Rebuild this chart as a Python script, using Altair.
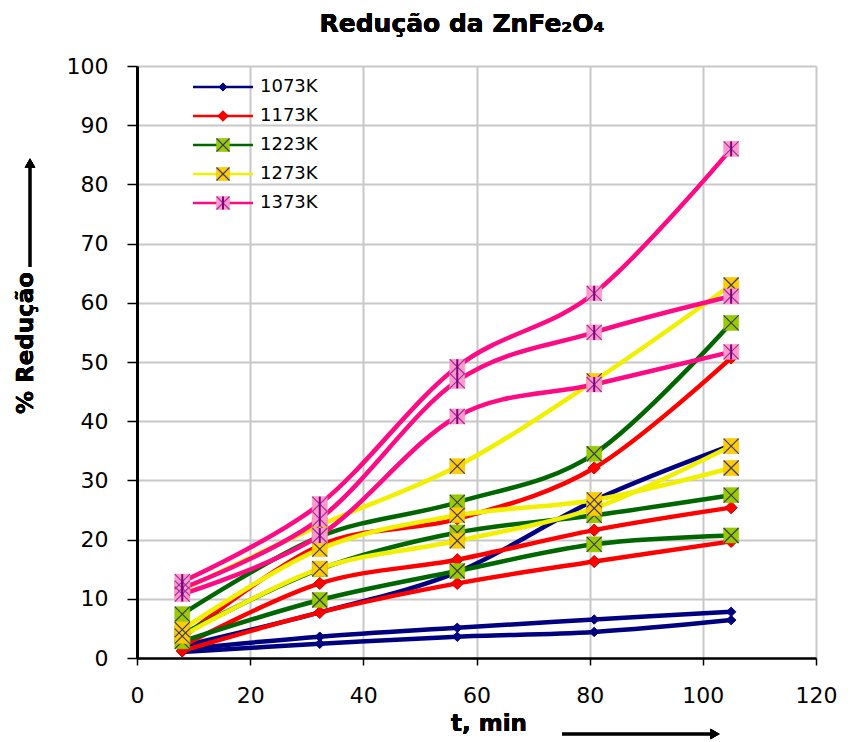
import altair as alt
import pandas as pd

# ---------------- data ----------------
times = [8, 32.3, 56.6, 80.8, 105]
temps = ["1073K", "1173K", "1223K", "1273K", "1373K"]
runs = ["a", "b", "c"]

r1073_a = [1.0, 2.4, 3.6, 4.4, 6.4]
r1073_b = [1.5, 3.6, 5.1, 6.5, 7.8]
r1073_c = [2.0, 7.7, 14.5, 26.6, 35.9]

r1173_a = [1.2, 7.7, 12.6, 16.3, 19.7]
r1173_b = [2.0, 12.6, 16.6, 21.6, 25.4]
r1173_c = [3.4, 19.0, 23.5, 32.1, 50.7]

r1223_a = [2.8, 9.8, 14.7, 19.2, 20.7]
r1223_b = [4.0, 15.0, 21.2, 24.1, 27.5]
r1223_c = [7.4, 20.5, 26.3, 34.5, 56.6]

r1273_a = [3.7, 15.1, 19.8, 25.3, 35.8]
r1273_b = [4.8, 18.4, 24.1, 26.7, 32.1]
r1273_c = [11.5, 22.4, 32.4, 46.8, 63.0]

r1373_a = [10.8, 20.7, 40.8, 46.2, 51.7]
r1373_b = [11.8, 23.5, 46.8, 55.0, 61.1]
r1373_c = [12.9, 26.0, 49.2, 61.6, 86.0]

series = {
    "1073K": [r1073_a, r1073_b, r1073_c],
    "1173K": [r1173_a, r1173_b, r1173_c],
    "1223K": [r1223_a, r1223_b, r1223_c],
    "1273K": [r1273_a, r1273_b, r1273_c],
    "1373K": [r1373_a, r1373_b, r1373_c],
}

line_colors = ["#000080", "#FF0000", "#006600", "#F0F000", "#FF0A85"]

rows = []
for temp in temps:
    for run, vals in zip(runs, series[temp]):
        for t, v in zip(times, vals):
            rows.append({"t": t, "v": v, "temp": temp, "run": temp + run})
df = pd.DataFrame(rows)

legend_df = pd.DataFrame({"temp": temps, "i": list(range(len(temps)))})

FONT = "DejaVu Sans"
XPATH = "M-1,-1L1,1M-1,1L1,-1"
BAR = "M0,-1L0,1"

marker_specs = {
    "1073K": [dict(shape="diamond", filled=True, fill="#000080", stroke="#000080", strokeWidth=1, size=90)],
    "1173K": [dict(shape="diamond", filled=True, fill="#FF0000", stroke="#CC0000", strokeWidth=1, size=150)],
    "1223K": [dict(shape="square", filled=True, fill="#99CC00", stroke="#88BB00", strokeWidth=0.5, size=225),
              dict(shape=XPATH, filled=False, stroke="#3A3A5A", strokeWidth=1.2, size=225)],
    "1273K": [dict(shape="square", filled=True, fill="#FFCC00", stroke="#EEBB00", strokeWidth=0.5, size=225),
              dict(shape=XPATH, filled=False, stroke="#3A3A6A", strokeWidth=1.2, size=225)],
    "1373K": [dict(shape="square", filled=True, fill="#FF99CC", stroke="#FF88C0", strokeWidth=0.5, size=225),
              dict(shape=XPATH, filled=False, stroke="#993399", strokeWidth=1.2, size=225),
              dict(shape=BAR, filled=False, stroke="#800080", strokeWidth=2, size=225)],
}

xscale = alt.Scale(domain=[0, 120], nice=False, zero=False)
yscale = alt.Scale(domain=[0, 100], nice=False)
cscale = alt.Scale(domain=temps, range=line_colors)

xaxis = alt.Axis(values=list(range(0, 121, 20)), title=None, grid=True,
                 gridColor="#C8C8C8", gridWidth=2, domainColor="black", domainWidth=2.5,
                 tickColor="black", tickWidth=1.5, tickSize=7, labelFont=FONT,
                 labelFontSize=22, labelColor="black", labelPadding=20, labelFlush=False)
yaxis = alt.Axis(values=list(range(0, 101, 10)), title=None, grid=True,
                 gridColor="#C8C8C8", gridWidth=2, domainColor="black", domainWidth=3,
                 tickColor="black", tickWidth=1.5, tickSize=10, labelFont=FONT,
                 labelFontSize=22, labelColor="black", labelPadding=19, labelFlush=False)

base = alt.Chart(df)

lines = base.mark_line(interpolate="cardinal", strokeWidth=4.5).encode(
    x=alt.X("t:Q", scale=xscale, axis=xaxis),
    y=alt.Y("v:Q", scale=yscale, axis=yaxis),
    color=alt.Color("temp:N", scale=cscale, legend=None),
    detail="run:N",
)

layers = [lines]
for temp in temps:
    b = base.transform_filter(alt.datum.temp == temp)
    for spec in marker_specs[temp]:
        layers.append(b.mark_point(opacity=1, **spec).encode(
            x=alt.X("t:Q", scale=xscale), y=alt.Y("v:Q", scale=yscale)))

# ---------------- legend (drawn inside the plot, top-left) ----------------
lbase = alt.Chart(legend_df).transform_calculate(ly="21 + datum.i * 29")
layers.append(lbase.mark_rule(strokeWidth=2.5).encode(
    x=alt.value(56), x2=alt.value(116), y=alt.Y("ly:Q", scale=None),
    color=alt.Color("temp:N", scale=cscale, legend=None)))
for temp in temps:
    lb = lbase.transform_filter(alt.datum.temp == temp)
    for spec in marker_specs[temp]:
        s = dict(spec)
        s["size"] = spec["size"] * 0.75
        layers.append(lb.mark_point(opacity=1, **s).encode(
            x=alt.value(86), y=alt.Y("ly:Q", scale=None)))
layers.append(lbase.mark_text(align="left", baseline="middle", font=FONT, fontSize=18,
                              color="black").encode(
    x=alt.value(123), y=alt.Y("ly:Q", scale=None), text="temp:N"))

# ---------------- titles and arrows ----------------
title = alt.Chart(legend_df).mark_text(
    text="Redução da ZnFe₂O₄", font=FONT, fontWeight="bold", fontSize=25,
    align="center", baseline="middle", color="black").encode(
    x=alt.value(325), y=alt.value(-42))
ytitle = alt.Chart(legend_df).mark_text(
    text="% Redução", font=FONT, fontWeight="bold", fontSize=23, angle=270,
    align="center", baseline="middle", color="black").encode(
    x=alt.value(-111), y=alt.value(277))
xtitle = alt.Chart(legend_df).mark_text(
    text="t, min", font=FONT, fontWeight="bold", fontSize=23,
    align="center", baseline="middle", color="black").encode(
    x=alt.value(352), y=alt.value(658))
yarrow = alt.Chart(legend_df).mark_rule(strokeWidth=2.5, color="black").encode(
    x=alt.value(-107), y=alt.value(201), y2=alt.value(102))
yhead = alt.Chart(legend_df).mark_point(shape="triangle-up", filled=True, size=110,
                                        color="black", opacity=1).encode(
    x=alt.value(-107), y=alt.value(97))
xarrow = alt.Chart(legend_df).mark_rule(strokeWidth=2.5, color="black").encode(
    x=alt.value(425), x2=alt.value(575), y=alt.value(668))
xhead = alt.Chart(legend_df).mark_point(shape="triangle-right", filled=True, size=110,
                                        color="black", opacity=1).encode(
    x=alt.value(578), y=alt.value(668))

layers += [title, ytitle, xtitle, yarrow, yhead, xarrow, xhead]

chart = alt.layer(*layers).properties(
    width=679, height=592,
    autosize=alt.AutoSizeParams(type="none"),
    padding={"left": 137, "top": 66, "right": 32, "bottom": 84},
    background="white",
).configure_view(stroke=None)

chart.save("out.html", embed_options={"renderer": "svg", "actions": False})
